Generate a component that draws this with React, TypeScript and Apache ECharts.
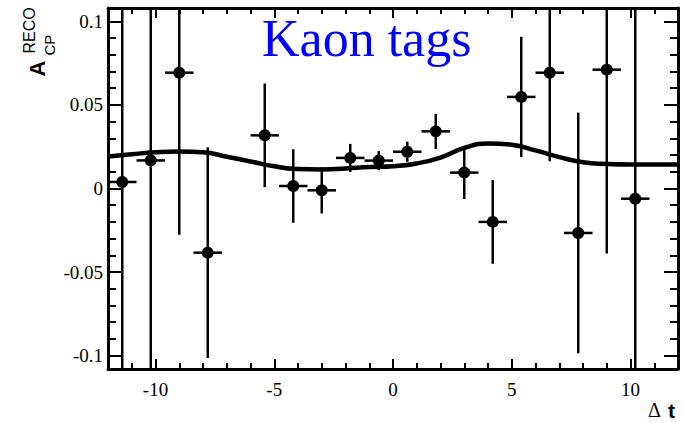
import React, { useEffect, useRef } from "react";
import * as echarts from "echarts";

// Measured CP asymmetry per Δt bin (bin width 1.2)
const binCenters = [-11.4, -10.2, -9.0, -7.8, -5.4, -4.2, -3.0, -1.8, -0.6, 0.6, 1.8, 3.0, 4.2, 5.4, 6.6, 7.8, 9.0, 10.2];
const asymmetry = [0.0039, 0.0168, 0.0693, -0.0384, 0.0318, 0.0015, -0.0011, 0.0183, 0.0167, 0.022, 0.0342, 0.0095, -0.02, 0.0548, 0.0693, -0.0266, 0.0711, -0.0061];
const asymmetryErr = [0.3, 0.3, 0.097, 0.063, 0.031, 0.022, 0.0138, 0.0084, 0.0057, 0.006, 0.0105, 0.0158, 0.025, 0.036, 0.053, 0.072, 0.11, 0.2];
const binHalfWidth = 0.6;

// Fitted asymmetry curve
const fitT = [-12, -11, -10, -9, -8, -7, -6, -5, -4, -3, -2, -1, 0, 1, 2, 3, 4, 5, 6, 7, 8, 9, 10, 11, 12];
const fitA = [0.0192, 0.0205, 0.0217, 0.0222, 0.0217, 0.019, 0.0162, 0.0133, 0.0116, 0.0114, 0.012, 0.0128, 0.0133, 0.015, 0.0185, 0.0243, 0.027, 0.0262, 0.0228, 0.0188, 0.0157, 0.0147, 0.0144, 0.0144, 0.0144];

// Axis ticks
const xMajorTicks = [-10, -5, 0, 5, 10];
const yMajorTicks = [-0.1, -0.05, 0, 0.05, 0.1];
const yMinorTicks = [-0.1, -0.09, -0.08, -0.07, -0.06, -0.05, -0.04, -0.03, -0.02, -0.01, 0, 0.01, 0.02, 0.03, 0.04, 0.05, 0.06, 0.07, 0.08, 0.09, 0.1];
const yTickLabels = ["-0.1", "-0.05", "0", "0.05", "0.1"];

const X_MIN = -12;
const X_MAX = 12;
const Y_MIN = -0.108;
const Y_MAX = 0.108;
// fine step for the labelled y axis (min/max are multiples of it)
const Y_LABEL_STEP = 0.002;

const SERIF = "Liberation Serif, Times New Roman, serif";
const SANS = "Liberation Sans, Arial, Helvetica, sans-serif";

export default function App() {
  const ref = useRef<HTMLDivElement>(null);

  useEffect(() => {
    if (!ref.current) return;
    const chart = echarts.init(ref.current, null, { renderer: "svg" });

    const frameLine = { show: true, onZero: false, lineStyle: { color: "#000", width: 3 } };
    const hiddenLine = { show: false, onZero: false };
    const noLabel = { show: false };
    const noSplit = { show: false };
    const richNum = {
      n: { color: "#000", fontFamily: "Liberation Serif", fontSize: 19, lineHeight: 22 },
    };

    const xBase = {
      type: "value" as const,
      min: X_MIN,
      max: X_MAX,
      splitLine: noSplit,
    };
    const yBase = {
      type: "value" as const,
      min: Y_MIN,
      max: Y_MAX,
      splitLine: noSplit,
    };

    const majorTick = (length: number) => ({
      show: true,
      inside: true,
      length,
      lineStyle: { color: "#000", width: 2 },
    });

    const option: any = {
      animation: false,
      backgroundColor: "#fff",
      textStyle: { fontFamily: "Liberation Serif" },
      grid: { left: 108, right: 6, top: 8, bottom: 54 },
      xAxis: [
        {
          ...xBase,
          position: "bottom",
          axisLine: frameLine,
          axisTick: { ...majorTick(10), customValues: xMajorTicks },
          axisLabel: noLabel,
        },
        {
          ...xBase,
          position: "bottom",
          interval: 1,
          axisLine: hiddenLine,
          axisTick: majorTick(6),
          axisLabel: {
            show: true,
            interval: 0,
            color: "#000",
            fontFamily: "Liberation Serif",
            fontSize: 19,
            margin: 9,
            rich: richNum,
            formatter: (v: number) => {
              const r = Math.round(v);
              return xMajorTicks.includes(r) && Math.abs(v - r) < 1e-9 ? `{n|${r}}` : "";
            },
          },
        },
        {
          ...xBase,
          position: "top",
          axisLine: frameLine,
          axisTick: { ...majorTick(10), customValues: xMajorTicks },
          axisLabel: noLabel,
        },
        {
          ...xBase,
          position: "top",
          interval: 1,
          axisLine: hiddenLine,
          axisTick: majorTick(6),
          axisLabel: noLabel,
        },
      ],
      yAxis: [
        {
          ...yBase,
          position: "left",
          axisLine: frameLine,
          axisTick: { ...majorTick(14), customValues: yMajorTicks },
          axisLabel: noLabel,
        },
        {
          ...yBase,
          position: "left",
          axisLine: hiddenLine,
          axisTick: { ...majorTick(8), customValues: yMinorTicks },
          axisLabel: noLabel,
        },
        {
          ...yBase,
          position: "right",
          axisLine: frameLine,
          axisTick: { ...majorTick(14), customValues: yMajorTicks },
          axisLabel: noLabel,
        },
        {
          ...yBase,
          position: "right",
          axisLine: hiddenLine,
          axisTick: { ...majorTick(8), customValues: yMinorTicks },
          axisLabel: noLabel,
        },
        {
          ...yBase,
          position: "left",
          interval: Y_LABEL_STEP,
          axisLine: hiddenLine,
          axisTick: { show: false },
          axisLabel: {
            show: true,
            interval: 0,
            color: "#000",
            fontFamily: "Liberation Serif",
            fontSize: 19,
            margin: 5,
            rich: richNum,
            formatter: (v: number) => {
              const i = yMajorTicks.findIndex((t) => Math.abs(t - v) < 1e-6);
              return i >= 0 ? `{n|${yTickLabels[i]}}` : "";
            },
          },
        },
      ],
      series: [
        {
          type: "line",
          xAxisIndex: 0,
          yAxisIndex: 0,
          data: fitT.map((t, i) => [t, fitA[i]]),
          smooth: true,
          symbol: "none",
          lineStyle: { color: "#000", width: 4.5 },
          z: 2,
        },
        {
          type: "custom",
          xAxisIndex: 0,
          yAxisIndex: 0,
          data: binCenters.map((t, i) => [t, asymmetry[i], binHalfWidth, asymmetryErr[i]]),
          z: 3,
          renderItem: (params: any, api: any) => {
            const x = api.value(0);
            const y = api.value(1);
            const ex = api.value(2);
            const ey = api.value(3);
            const cs = params.coordSys;
            const clampY = (v: number) => Math.max(cs.y, Math.min(cs.y + cs.height, v));
            const c = api.coord([x, y]);
            const top = api.coord([x, y + ey]);
            const bot = api.coord([x, y - ey]);
            const l = api.coord([x - ex, y]);
            const r = api.coord([x + ex, y]);
            const stroke = { stroke: "#000", lineWidth: 2.5 };
            return {
              type: "group",
              children: [
                {
                  type: "line",
                  shape: { x1: c[0], y1: clampY(top[1]), x2: c[0], y2: clampY(bot[1]) },
                  style: stroke,
                },
                {
                  type: "line",
                  shape: { x1: l[0], y1: c[1], x2: r[0], y2: c[1] },
                  style: stroke,
                },
                {
                  type: "circle",
                  shape: { cx: c[0], cy: c[1], r: 6 },
                  style: { fill: "#000" },
                },
              ],
            };
          },
        },
      ],
      graphic: [
        {
          type: "text",
          x: 262,
          y: 38,
          style: {
            text: "Kaon tags",
            fill: "#0000ff",
            font: `52px ${SERIF}`,
            textAlign: "left",
            textVerticalAlign: "middle",
          },
          z: 10,
        },
        {
          type: "text",
          x: 37.5,
          y: 76.5,
          rotation: Math.PI / 2,
          style: {
            text: "A",
            fill: "#000",
            font: `bold 22px ${SANS}`,
            textAlign: "left",
            textVerticalAlign: "middle",
          },
        },
        {
          type: "text",
          x: 29.5,
          y: 53.5,
          rotation: Math.PI / 2,
          style: {
            text: "RECO",
            fill: "#000",
            font: `16px ${SANS}`,
            textAlign: "left",
            textVerticalAlign: "middle",
          },
        },
        {
          type: "text",
          x: 49.5,
          y: 55.5,
          rotation: Math.PI / 2,
          style: {
            text: "CP",
            fill: "#000",
            font: `15px ${SANS}`,
            textAlign: "left",
            textVerticalAlign: "middle",
          },
        },
        {
          type: "text",
          x: 648,
          y: 410,
          style: {
            text: "Δ",
            fill: "#000",
            font: `20px ${SERIF}`,
            textAlign: "left",
            textVerticalAlign: "middle",
          },
        },
        {
          type: "text",
          x: 668,
          y: 410,
          style: {
            text: "t",
            fill: "#000",
            font: `bold 21px ${SANS}`,
            textAlign: "left",
            textVerticalAlign: "middle",
          },
        },
      ],
    };

    chart.setOption(option);
    return () => chart.dispose();
  }, []);

  return <div ref={ref} style={{ width: 684, height: 423, position: "absolute", left: 0, top: 0 }} />;
}
